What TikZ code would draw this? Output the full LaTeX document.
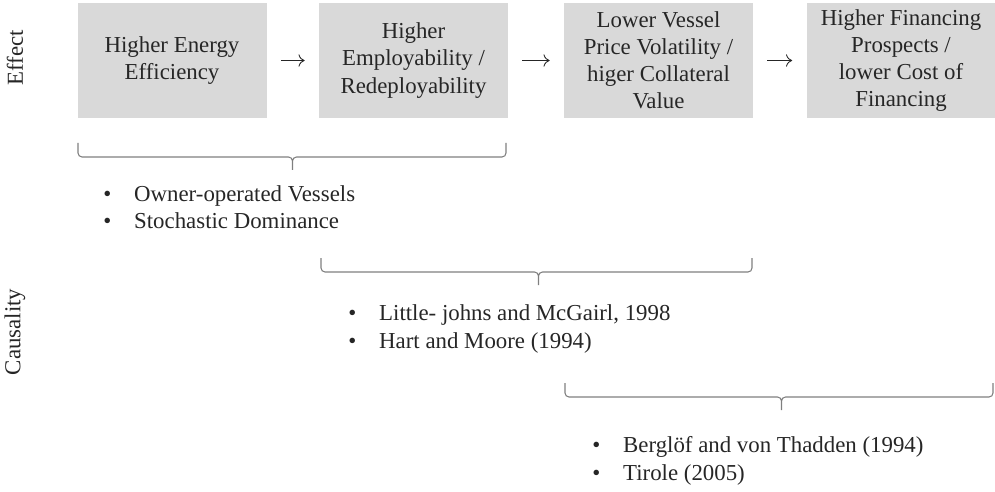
\documentclass[tikz,border=0pt]{standalone}
\usepackage{fontspec}
\setmainfont{Liberation Serif}
\usepackage{tikz}
\usetikzlibrary{arrows,arrows.meta}
\definecolor{boxgray}{HTML}{D9D9D9}
\definecolor{txtgray}{HTML}{262626}
\definecolor{linegray}{HTML}{7F7F7F}

\begin{document}
\begin{tikzpicture}
    \tikzset{effect/.style = {shape=rectangle, fill=boxgray, text=txtgray, align=center, inner sep=0pt, minimum width=3.78cm, minimum height=2.3cm, font=\fontsize{13pt}{15.4pt}\selectfont}}
    \tikzset{arr/.style = {draw=txtgray, line width=0.5pt, -{To[length=3.5pt,width=7pt]}, shorten >=0.28cm, shorten <=0.28cm}}
    \tikzset{bracket/.style = {draw=linegray, line width=0.6pt}}
    \tikzset{cause/.style = {anchor=west, inner sep=0pt, text=txtgray, font=\fontsize{13pt}{15.6pt}\selectfont}}
    \tikzset{side/.style = {rotate=90, text=txtgray, font=\fontsize{13pt}{15.6pt}\selectfont}}

    \useasboundingbox (0,0) rectangle (19.9,-9.82);

    % row labels
    \node[side] (eff) at (0.3,-1.16) {Effect};
    \node[side] (cau) at (0.3,-6.64) {Causality};

    % effects
    \node[effect] (energy) at (3.44,-1.21) {Higher Energy\\Efficiency};
    \node[effect] (employ) at (8.27,-1.21) {Higher\\Employability /\\Redeployability};
    \node[effect] (price) at (13.17,-1.21) {Lower Vessel\\Price Volatility /\\higer Collateral\\Value};
    \node[effect] (finance) at (18.02,-1.21) {Higher Financing\\Prospects /\\lower Cost of\\Financing};

    % arrows
    \draw [arr] (energy) -- (employ);
    \draw [arr] (employ) -- (price);
    \draw [arr] (price) -- (finance);

    % brackets
    \foreach \l/\m/\r/\y in {1.56/5.85/10.12/-2.86, 6.42/10.77/15.04/-5.16, 11.30/15.63/19.86/-7.66}
        \draw [bracket] (\l,\y) -- (\l,\y-0.2) arc[start angle=180, end angle=270, radius=0.08]
            -- (\m-0.08,\y-0.28) arc[start angle=90, end angle=0, radius=0.08] -- (\m,\y-0.54)
            (\m,\y-0.36) arc[start angle=180, end angle=90, radius=0.08]
            -- (\r-0.08,\y-0.28) arc[start angle=270, end angle=360, radius=0.08] -- (\r,\y);

    % causality
    \node[cause] (owner) at (2.06,-4.19) {\begin{tabular}{@{}l@{\hspace{13pt}}l@{}}•&Owner-operated Vessels\\•&Stochastic Dominance\end{tabular}};
    \node[cause] (little) at (6.96,-6.58) {\begin{tabular}{@{}l@{\hspace{13pt}}l@{}}•&Little- johns and McGairl, 1998\\•&Hart and Moore (1994)\end{tabular}};
    \node[cause] (berglof) at (11.84,-9.22) {\begin{tabular}{@{}l@{\hspace{13pt}}l@{}}•&Berglöf and von Thadden (1994)\\•&Tirole (2005)\end{tabular}};
\end{tikzpicture}
\end{document}
